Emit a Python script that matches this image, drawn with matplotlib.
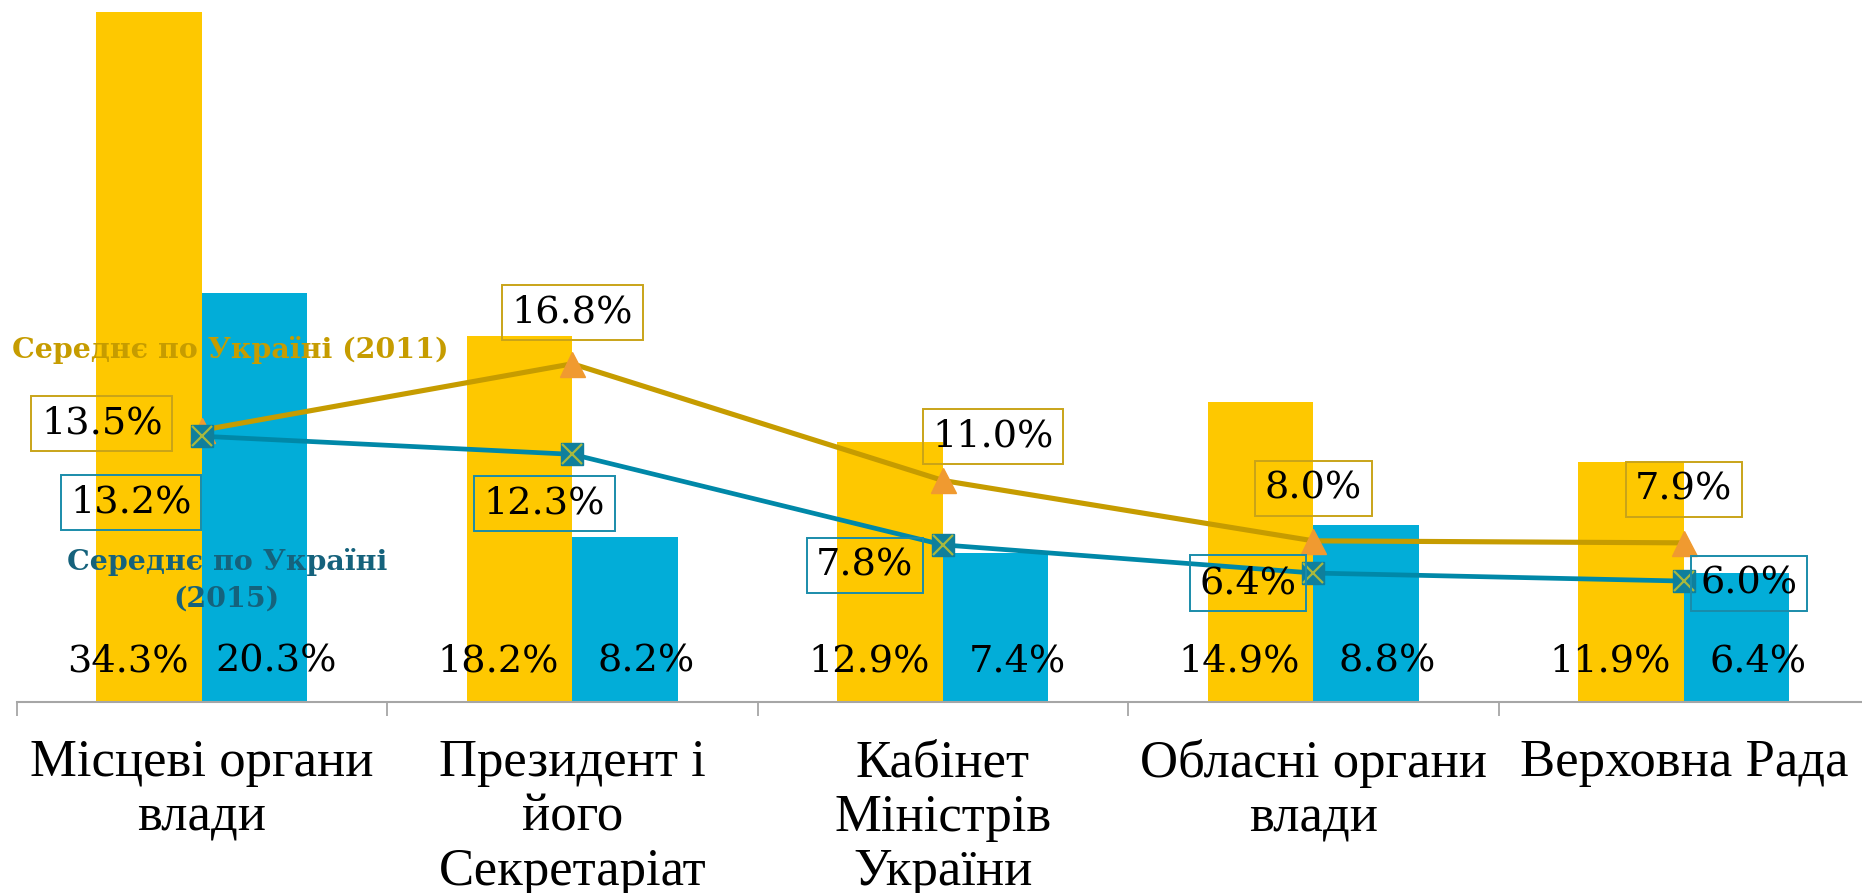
import matplotlib
matplotlib.use("Agg")
import matplotlib.pyplot as plt

categories = ["Місцеві органи\nвлади", "Президент і\nйого\nСекретаріат",
              "Кабінет\nМіністрів\nУкраїни", "Обласні органи\nвлади", "Верховна Рада"]
bars_2011 = [34.3, 18.2, 12.9, 14.9, 11.9]
bars_2015 = [20.3, 8.2, 7.4, 8.8, 6.4]
avg_2011 = [13.5, 16.8, 11.0, 8.0, 7.9]
avg_2015 = [13.2, 12.3, 7.8, 6.4, 6.0]

# label offsets (pixels) for line labels
off_2011 = [(-100, 7), (0, 51), (50, 44), (0, 52), (0, 53)]
off_2015 = [(-71, -66), (-28, -49), (-78, -21), (-65, -10), (65, -2)]

W, H = 1862, 893
fig = plt.figure(figsize=(W / 100, H / 100), dpi=100)
x0 = 16.6
cw = 370.5
base = 701.8
ax = fig.add_axes([x0 / W, (H - base) / H, 5 * cw / W, base / H])
ymax = base / 20.12
ax.set_xlim(-0.5, 4.5)
ax.set_ylim(0, ymax)

YEL = "#FEC800"
BLU = "#02ADD8"
GOLD = "#C69C00"
TEAL = "#0088A8"

bw = 0.285
xs = list(range(len(categories)))
ax.bar([x - bw / 2 for x in xs], bars_2011, width=bw, color=YEL, zorder=1)
ax.bar([x + bw / 2 for x in xs], bars_2015, width=bw, color=BLU, zorder=1)

ax.plot(xs, avg_2011, color=GOLD, lw=3.7, marker="^", ms=18, mfc="#F09A30",
        mec="#F09A30", zorder=3)
ax.plot(xs, avg_2015, color=TEAL, lw=3.4, zorder=4)
ax.plot(xs, avg_2015, ls="none", marker="s", ms=16, mfc="#0F7F9C", mec="#0F7F9C", zorder=5)
ax.plot(xs, avg_2015, ls="none", marker="x", ms=15, mec="#A8B83E", mew=1.6, zorder=6)

lab_font = dict(family="DejaVu Serif", fontsize=27.5, color="black")
for x, v, o in zip(xs, avg_2011, off_2011):
    ax.annotate(f"{v:.1f}%", (x, v), xytext=o, textcoords="offset pixels",
                ha="center", va="center", zorder=7, **lab_font,
                bbox=dict(boxstyle="square,pad=0.25", fc="none", ec="#C9A419", lw=1.4))
for x, v, o in zip(xs, avg_2015, off_2015):
    ax.annotate(f"{v:.1f}%", (x, v), xytext=o, textcoords="offset pixels",
                ha="center", va="center", zorder=7, **lab_font,
                bbox=dict(boxstyle="square,pad=0.25", fc="none", ec="#1A8CAA", lw=1.4))

for x, v1, v2 in zip(xs, bars_2011, bars_2015):
    ax.text(x - 0.2, 2.0, f"{v1:.1f}%", ha="center", va="center", zorder=7, **lab_font)
    ax.text(x + 0.2, 2.0, f"{v2:.1f}%", ha="center", va="center", zorder=7, **lab_font)

# annotations
fig.text(12 / W, 1 - 350 / H, "Середнє по Україні (2011)", color=GOLD,
         family="DejaVu Serif", fontweight="bold", fontsize=20.5, ha="left", va="center")
fig.text(227 / W, 1 - 580 / H, "Середнє по Україні\n(2015)", color="#15627C",
         family="DejaVu Serif", fontweight="bold", fontsize=20.5, ha="center", va="center",
         linespacing=1.45)

# axes styling
for s in ["top", "left", "right"]:
    ax.spines[s].set_visible(False)
ax.spines["bottom"].set_color("#A6A6A6")
ax.spines["bottom"].set_linewidth(1.5)
ax.set_yticks([])
ax.set_xticks([x + 0.5 for x in [-1] + xs], minor=True)
ax.tick_params(axis="x", which="minor", length=10, width=1.3, color="#A6A6A6")
ax.set_xticks(xs)
ax.set_xticklabels(categories, family="Liberation Serif", fontsize=38, linespacing=1.17)
ax.tick_params(axis="x", which="major", length=0, pad=27)

fig.savefig("out.png", dpi=100)
